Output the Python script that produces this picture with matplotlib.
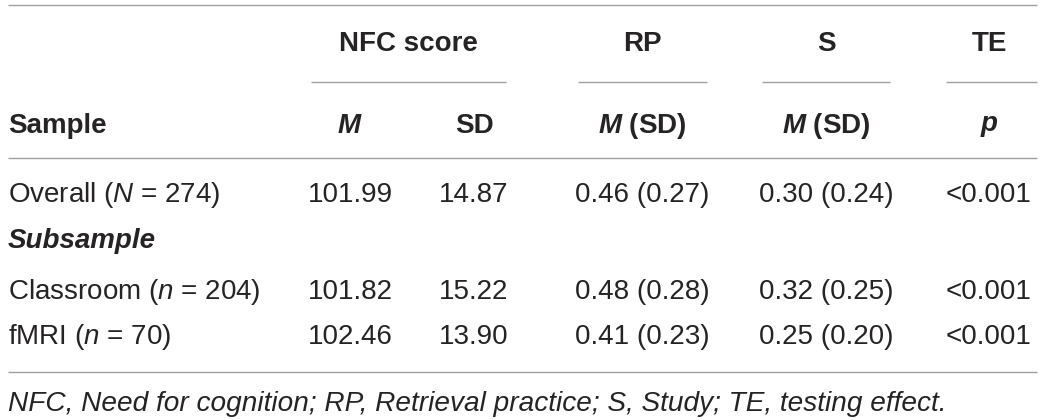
import matplotlib
matplotlib.use("Agg")
import matplotlib.pyplot as plt

plt.rcParams["font.family"] = ["Liberation Sans", "DejaVu Sans"]
plt.rcParams["mathtext.fontset"] = "custom"
plt.rcParams["mathtext.rm"] = "Liberation Sans"
plt.rcParams["mathtext.it"] = "Liberation Sans:italic"
plt.rcParams["mathtext.bf"] = "Liberation Sans:bold"
plt.rcParams["mathtext.bfit"] = "Liberation Sans:bold:italic"

# table content
group_headers = ["NFC score", "RP", "S", "TE"]
sub_headers = [r"$\mathbfit{M}$", "SD", r"$\mathbfit{M}$ (SD)", r"$\mathbfit{M}$ (SD)", r"$\mathbfit{p}$"]
sample_names = ["Overall", "Classroom", "fMRI"]
sample_sym = ["N", "n", "n"]
sample_n = [274, 204, 70]
nfc_m = [101.99, 101.82, 102.46]
nfc_sd = [14.87, 15.22, 13.90]
rp_m = [0.46, 0.48, 0.41]
rp_sd = [0.27, 0.28, 0.23]
s_m = [0.30, 0.32, 0.25]
s_sd = [0.24, 0.25, 0.20]
te_p = ["<0.001", "<0.001", "<0.001"]
footnote = "NFC, Need for cognition; RP, Retrieval practice; S, Study; TE, testing effect."

# layout in pixels
W, H = 1043, 420
left, right = 8, 1037
col_x = [350, 474, 642, 826, 989]
group_x = [408, 642, 826, 989]
group_span = [(311, 506), (578, 707), (762, 890), (946, 1037)]
row_y = [195, 292, 337]
fs = 20
txt_color = "#262324"
line_color = "#a0a0a0"

fig = plt.figure(figsize=(W / 100, H / 100), dpi=100)
ax = fig.add_axes([0, 0, 1, 1])
ax.set_xlim(0, W)
ax.set_ylim(H, 0)
ax.axis("off")

# rules
for y in [5, 158, 372]:
    ax.hlines(y, left, right, color=line_color, lw=1.0)
for x0, x1 in group_span:
    ax.hlines(82, x0, x1, color=line_color, lw=1.0)

# header
for x, h in zip(group_x, group_headers):
    ax.text(x, 44, h, ha="center", va="center", fontsize=fs, fontweight="bold", color=txt_color)
ax.text(left, 126, "Sample", ha="left", va="center", fontsize=fs, fontweight="bold", color=txt_color)
for x, h in zip(col_x, sub_headers):
    ax.text(x, 126, h, ha="center", va="center", fontsize=fs, fontweight="bold", color=txt_color)

# body
ax.text(left, 241, "Subsample", ha="left", va="center", fontsize=fs, fontweight="bold",
        style="italic", color=txt_color)
for i, y in enumerate(row_y):
    label = f"{sample_names[i]} (${sample_sym[i]}$ = {sample_n[i]})"
    ax.text(left, y, label, ha="left", va="center", fontsize=fs, color=txt_color)
    cells = [f"{nfc_m[i]:.2f}", f"{nfc_sd[i]:.2f}",
             f"{rp_m[i]:.2f} ({rp_sd[i]:.2f})", f"{s_m[i]:.2f} ({s_sd[i]:.2f})", te_p[i]]
    for x, c in zip(col_x, cells):
        ax.text(x, y, c, ha="center", va="center", fontsize=fs, color=txt_color)

ax.text(left, 404, footnote, ha="left", va="center", fontsize=20.2, style="italic", color=txt_color)

fig.savefig("out.png", dpi=100)
